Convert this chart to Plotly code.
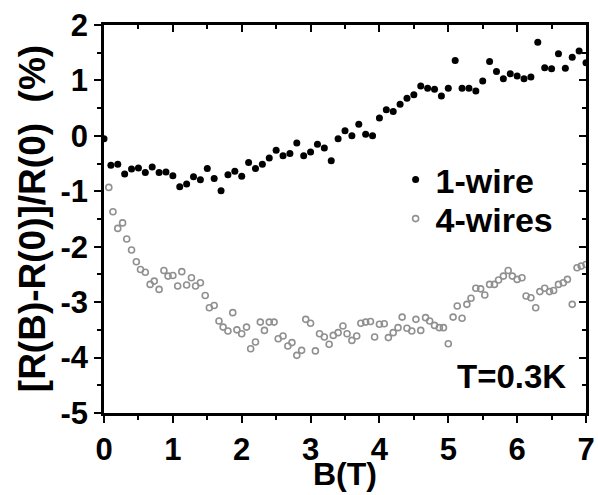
import plotly.graph_objects as go

# 1-wire data (B in T, relative change in %)
b_1wire = [0.0, 0.1, 0.2, 0.3, 0.4, 0.5, 0.6, 0.7, 0.8, 0.9,
           1.0, 1.1, 1.2, 1.3, 1.4, 1.5, 1.6, 1.7, 1.8, 1.9,
           2.0, 2.1, 2.2, 2.3, 2.4, 2.5, 2.6, 2.7, 2.8, 2.9,
           3.0, 3.1, 3.2, 3.3, 3.4, 3.5, 3.6, 3.7, 3.8, 3.9,
           4.0, 4.1, 4.2, 4.3, 4.4, 4.5, 4.6, 4.7, 4.8, 4.9,
           5.0, 5.1, 5.2, 5.3, 5.4, 5.5, 5.6, 5.7, 5.8, 5.9,
           6.0, 6.1, 6.2, 6.3, 6.4, 6.5, 6.6, 6.7, 6.8, 6.9, 7.0]
r_1wire = [-0.05, -0.53, -0.51, -0.69, -0.60, -0.58, -0.66, -0.56, -0.66, -0.65,
           -0.72, -0.92, -0.87, -0.74, -0.79, -0.59, -0.77, -0.99, -0.70, -0.64,
           -0.73, -0.48, -0.59, -0.51, -0.40, -0.26, -0.36, -0.32, -0.13, -0.36,
           -0.29, -0.15, -0.22, -0.45, -0.05, 0.09, 0.00, 0.21, 0.03, 0.00,
           0.32, 0.47, 0.44, 0.57, 0.68, 0.74, 0.90, 0.86, 0.84, 0.72,
           0.86, 1.36, 0.86, 0.86, 0.81, 0.99, 1.34, 1.16, 1.03, 1.12,
           1.08, 1.03, 1.06, 1.69, 1.23, 1.21, 1.48, 1.22, 1.42, 1.53, 1.32]

# 4-wires data
b_4wires = [0.07, 0.13, 0.20, 0.27, 0.33, 0.40, 0.47, 0.53, 0.60, 0.67,
            0.73, 0.80, 0.87, 0.93, 1.00, 1.07, 1.13, 1.20, 1.27, 1.33,
            1.40, 1.47, 1.53, 1.60, 1.67, 1.73, 1.80, 1.87, 1.93, 2.00,
            2.07, 2.13, 2.20, 2.27, 2.33, 2.40, 2.47, 2.53, 2.60, 2.67,
            2.73, 2.80, 2.87, 2.93, 3.00, 3.07, 3.13, 3.20, 3.27, 3.33,
            3.40, 3.47, 3.53, 3.60, 3.67, 3.73, 3.80, 3.87, 3.93, 4.00,
            4.07, 4.13, 4.20, 4.27, 4.33, 4.40, 4.47, 4.53, 4.60, 4.67,
            4.73, 4.80, 4.87, 4.93, 5.00, 5.07, 5.13, 5.20, 5.27, 5.33,
            5.40, 5.47, 5.53, 5.60, 5.67, 5.73, 5.80, 5.87, 5.93, 6.00,
            6.07, 6.13, 6.20, 6.27, 6.33, 6.40, 6.47, 6.53, 6.60, 6.67,
            6.73, 6.80, 6.87, 6.93, 7.00]
r_4wires = [-0.93, -1.37, -1.67, -1.57, -1.86, -2.06, -2.27, -2.41, -2.46, -2.68,
            -2.62, -2.77, -2.43, -2.53, -2.52, -2.71, -2.45, -2.69, -2.56, -2.71,
            -2.65, -2.88, -3.10, -3.06, -3.34, -3.45, -3.52, -3.19, -3.50, -3.57,
            -3.45, -3.84, -3.72, -3.36, -3.51, -3.36, -3.36, -3.66, -3.61, -3.79,
            -3.73, -3.96, -3.87, -3.31, -3.38, -3.88, -3.57, -3.63, -3.76, -3.60,
            -3.55, -3.43, -3.57, -3.69, -3.61, -3.38, -3.36, -3.35, -3.63, -3.40,
            -3.39, -3.64, -3.55, -3.46, -3.27, -3.47, -3.52, -3.31, -3.51, -3.28,
            -3.34, -3.42, -3.46, -3.46, -3.75, -3.27, -3.07, -3.29, -3.04, -2.93,
            -2.75, -2.76, -2.87, -2.68, -2.68, -2.60, -2.53, -2.43, -2.53, -2.59,
            -2.56, -2.89, -2.92, -3.10, -2.81, -2.75, -2.81, -2.79, -2.68, -2.65,
            -2.59, -3.04, -2.38, -2.35, -2.32]

x_ticks = [0, 1, 2, 3, 4, 5, 6, 7]
y_ticks = [-5, -4, -3, -2, -1, 0, 1, 2]
y_ticklabels = ["-5", "-4", "-3", "-2", "-1", "0", "1", "2"]

FONT = "Liberation Sans"
GRAY = "#909090"

fig = go.Figure()
fig.add_trace(go.Scatter(
    x=b_1wire, y=r_1wire, mode="markers", name="1-wire", legend="legend",
    marker=dict(symbol="circle", size=7, color="black"),
))
fig.add_trace(go.Scatter(
    x=b_4wires, y=r_4wires, mode="markers", name="4-wires", legend="legend2",
    marker=dict(symbol="circle-open", size=6, color=GRAY,
                line=dict(width=1.6, color=GRAY)),
))
# invisible trace for the mirrored (top/right) axes with inside ticks
fig.add_trace(go.Scatter(x=[0], y=[0], xaxis="x2", yaxis="y2",
                         mode="markers", marker=dict(opacity=0),
                         showlegend=False, hoverinfo="skip"))

axis_common = dict(showgrid=False, zeroline=False, linecolor="black",
                   linewidth=2.5, tickcolor="black", tickwidth=2, automargin=False)
minor_out = dict(dtick=0.5, ticks="outside", ticklen=4, tickcolor="black", tickwidth=2)
minor_in = dict(dtick=0.5, ticks="inside", ticklen=4, tickcolor="black", tickwidth=2)
tickfont = dict(size=31, family=FONT, weight="bold")
legfont = dict(size=34, family=FONT, weight="bold")

fig.update_layout(
    width=598, height=495,
    margin=dict(l=104, r=12, t=25, b=82),
    paper_bgcolor="white", plot_bgcolor="white",
    font=dict(family=FONT, color="black", size=31, weight="bold"),
    showlegend=True,
    legend=dict(x=0.605, y=0.6005, xanchor="left", yanchor="middle",
                bgcolor="rgba(0,0,0,0)", font=legfont, itemsizing="trace"),
    legend2=dict(x=0.605, y=0.50, xanchor="left", yanchor="middle",
                 bgcolor="rgba(0,0,0,0)", font=legfont, itemsizing="trace"),
    xaxis=dict(range=[0, 7], tickvals=x_ticks, ticks="outside", ticklen=7,
               minor=minor_out, showline=True, tickfont=tickfont, **axis_common),
    yaxis=dict(range=[-5, 2], tickvals=y_ticks, ticktext=y_ticklabels,
               ticks="outside", ticklen=7,
               minor=minor_out, showline=True, tickfont=tickfont, **axis_common),
    xaxis2=dict(range=[0, 7], overlaying="x", side="top", tickvals=x_ticks,
                ticks="inside", ticklen=7, showticklabels=False, showline=True,
                minor=minor_in, **axis_common),
    yaxis2=dict(range=[-5, 2], overlaying="y", side="right", tickvals=y_ticks,
                ticks="inside", ticklen=7, showticklabels=False, showline=True,
                minor=minor_in, **axis_common),
    annotations=[
        dict(text="T=0.3K", xref="paper", yref="paper",
             x=0.963, y=0.095, xanchor="right", yanchor="middle",
             showarrow=False, font=dict(size=33, family=FONT, weight="bold")),
        dict(text="B(T)", xref="paper", yref="paper",
             x=0.5, y=-0.156, xanchor="center", yanchor="middle",
             showarrow=False, font=dict(size=32, family=FONT, weight="bold")),
        dict(text="[R(B)-R(0)]/R(0)  (%)", xref="paper", yref="paper",
             x=-0.149, y=0.5, xanchor="center", yanchor="middle", textangle=-90,
             showarrow=False, font=dict(size=37, family=FONT, weight="bold")),
    ],
)

fig.write_html("out.html")
